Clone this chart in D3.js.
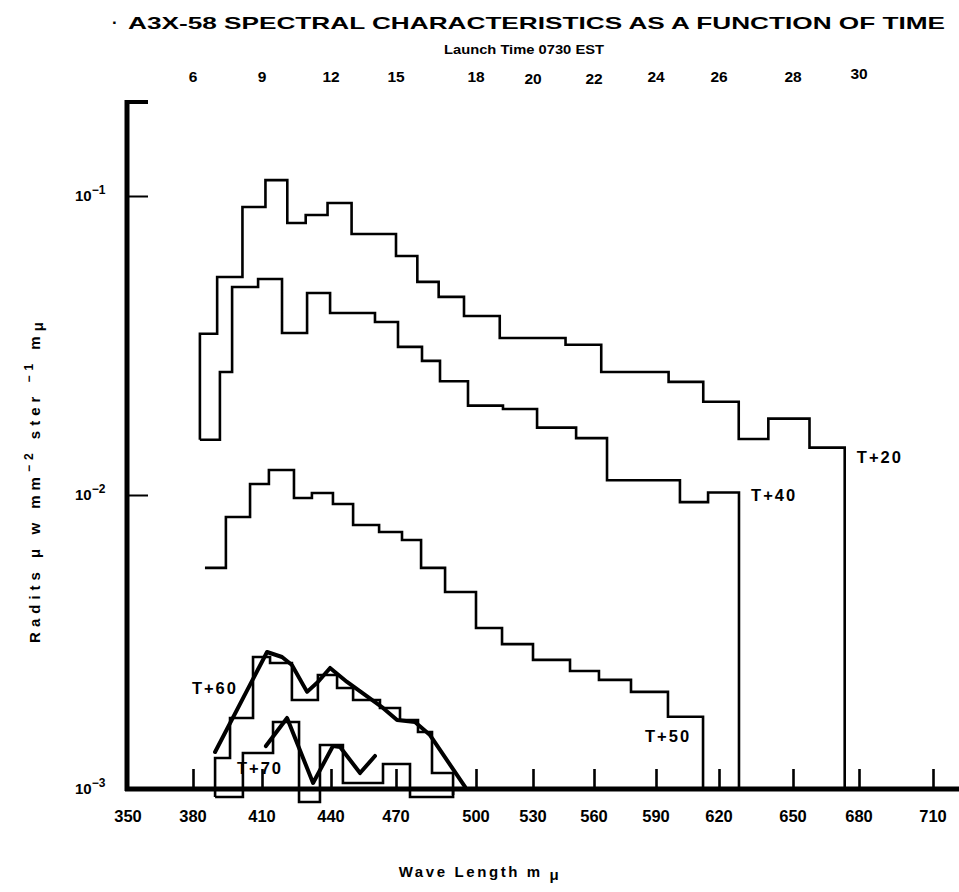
<!DOCTYPE html>
<html><head><meta charset="utf-8">
<script src="https://cdn.jsdelivr.net/npm/d3@7"></script>
<style>
html,body{margin:0;padding:0;background:#fff;}
svg{display:block;}
text{font-family:"Liberation Sans","DejaVu Sans",sans-serif;font-weight:bold;fill:#000;}
</style></head><body>
<svg id="chart" width="959" height="892"></svg>
<script>
// ---------------- data ----------------
const titleText = "A3X-58 SPECTRAL CHARACTERISTICS AS A FUNCTION OF TIME";
const subtitleText = "Launch Time 0730 EST";
const xTickValues = [350,380,410,440,470,500,530,560,590,620,650,680,710];
const topTickValues = [380,410,440,470,500,530,560,590,620,650,680];
const topTickLabels = ["6","9","12","15","18","20","22","24","26","28","30"];
const yTickValues = [1e-3,1e-2,1e-1];
const yTickExps = ["-3","-2","-1"];

// step spectra: bin edges (m\u03bc) and radiance per bin
const t20Edges = [383,390.5,401.5,411.5,421,429,438.5,449.5,470,478,486,495.5,512.5,546,563.5,596,612.5,628,640,657.5,673.5];
const t20Values = [0.0346,0.0536,0.0919,0.113,0.0812,0.0864,0.0947,0.0746,0.0630,0.0516,0.0460,0.0397,0.0335,0.0318,0.0258,0.0239,0.0205,0.0154,0.0180,0.0144];
const t20Start = 0.0153, t20End = 0.001;

const t40Edges = [383,391.7,397,408.3,418.7,429.6,439.6,460.3,470.75,479.75,486.5,497,514.2,532,551.2,566.3,601.4,614.8,628.1];
const t40Values = [0.0153,0.0258,0.0496,0.0528,0.0348,0.0474,0.0406,0.0379,0.0313,0.0281,0.0240,0.0199,0.0194,0.0168,0.0155,0.0112,0.00946,0.0102];
const t40Start = 0.0153, t40End = 0.001;

const t50Edges = [385.2,394.3,404.8,413,423.9,431.7,440.9,450.2,462.2,472.25,479.4,488.4,500,513.7,530,548.2,562.4,577.9,595.7,612.4];
const t50Values = [0.00565,0.00842,0.01088,0.01212,0.00977,0.01015,0.00932,0.00791,0.00748,0.00703,0.00565,0.00468,0.00353,0.00311,0.00275,0.00252,0.00235,0.00214,0.00176];
const t50Start = 0.00565, t50End = 0.001;

const t60Edges = [389.6,396.1,406.1,413.5,423,434.3,442.8,450.2,462.6,471.5,478.25,483.5,491.4];
const t60Values = [0.001275,0.001744,0.002812,0.002683,0.002008,0.002443,0.002205,0.002008,0.001886,0.001717,0.001563,0.001133];
const t60Start = 0.000939, t60End = 0.000954;

const t70Edges = [389.6,401.7,414.8,426.1,435.2,445.5,464,475.25,491.4];
const t70Values = [0.000939,0.001326,0.00169,0.000903,0.001412,0.001048,0.001216,0.000939];
const t70Start = 0.000939, t70End = 0.001;

// hand-faired curves through T+60 and T+70
const t60FitWave = [389.6,412.2,418.7,423,429.6,434.3,439.6,447.4,464,470.4,477.1,482.75,495.9];
const t60FitValue = [0.001336,0.002924,0.002812,0.002642,0.00214,0.002312,0.00258,0.002312,0.001886,0.001717,0.00169,0.001526,0.001016];
const t70FitWave = [411.7,420.9,432.2,440.9,444.2,453.4,460.3];
const t70FitValue = [0.0014,0.001744,0.001048,0.0014,0.00139,0.001133,0.001295];

const curveLabels = ["T+20","T+40","T+50","T+60","T+70"];
const curveLabelWave = [679,633,584.7,379.5,399.1];
const curveLabelValue = [0.0128,0.00954,0.001445,0.0021,0.001125];

// ---------------- layout ----------------
const svg = d3.select("#chart");
const xPx = [128,193,262,331,396,476,533,594,656,719,793,859,933];
const x = d3.scaleLinear().domain(xTickValues).range(xPx);
const y = d3.scaleLog().domain(yTickValues).range([789,495,196]);
const axisY = 789, axisX = 127;

// title
svg.append("text").attr("x",112).attr("y",28).attr("font-size",17).text("\u00b7");
svg.append("text").attr("x",128).attr("y",29).attr("font-size",17)
  .attr("textLength",817).attr("lengthAdjust","spacingAndGlyphs").text(titleText);
svg.append("text").attr("x",524).attr("y",54).attr("font-size",13.5).attr("text-anchor","middle")
  .attr("textLength",160).attr("lengthAdjust","spacingAndGlyphs").text(subtitleText);

// top scale labels
svg.append("g").selectAll("text").data(topTickValues).join("text")
  .attr("x",d=>x(d)).attr("y",(d,i)=> i>=5 && i<=6 ? 84 : (i===10?79:82))
  .attr("text-anchor","middle").attr("font-size",15.5).text((d,i)=>topTickLabels[i]);

// axes
const gx = svg.append("g").attr("transform",`translate(0,${axisY})`)
  .call(d3.axisBottom(x).tickValues(xTickValues.slice(1)).tickSize(-20).tickFormat(""));
gx.select(".domain").remove();
gx.selectAll(".tick line").attr("stroke","#000").attr("stroke-width",2.6);
svg.append("line").attr("x1",axisX-2).attr("x2",959).attr("y1",axisY).attr("y2",axisY)
  .attr("stroke","#000").attr("stroke-width",5);
svg.append("g").selectAll("text").data(xTickValues).join("text")
  .attr("x",d=>x(d)).attr("y",822).attr("text-anchor","middle").attr("font-size",16.5).text(d=>d);

const gy = svg.append("g").attr("transform",`translate(${axisX},0)`)
  .call(d3.axisLeft(y).tickValues(yTickValues.slice(1)).tickSize(-21).tickFormat(""));
gy.select(".domain").remove();
gy.selectAll(".tick line").attr("stroke","#000").attr("stroke-width",2);
svg.append("line").attr("x1",axisX).attr("x2",axisX).attr("y1",100).attr("y2",axisY+2)
  .attr("stroke","#000").attr("stroke-width",5);
svg.append("line").attr("x1",axisX).attr("x2",148).attr("y1",102).attr("y2",102)
  .attr("stroke","#000").attr("stroke-width",4);
const yl = svg.append("g").selectAll("text").data(yTickValues).join("text")
  .attr("x",75).attr("y",d=>y(d)+5).attr("font-size",15);
yl.append("tspan").text("10");
yl.append("tspan").attr("dy",-7).attr("font-size",12).text((d,i)=>"\u2212"+yTickExps[i].slice(1));

// axis titles
const xt = svg.append("text").attr("x",480).attr("y",877).attr("text-anchor","middle").attr("font-size",15)
  .attr("letter-spacing",2.6);
xt.append("tspan").text("Wave Length m ");
xt.append("tspan").attr("dy",3).text("\u03bc");

const yt = svg.append("text").attr("transform","translate(40,480) rotate(-90)").attr("text-anchor","middle")
  .attr("font-size",15).attr("letter-spacing",5);
yt.append("tspan").text("Radits \u03bc w mm");
yt.append("tspan").attr("dy",-7).attr("font-size",12).text("\u22122");
yt.append("tspan").attr("dy",7).text(" ster ");
yt.append("tspan").attr("dy",-7).attr("font-size",12).text("\u22121");
yt.append("tspan").attr("dy",7).text(" m");
yt.append("tspan").attr("dy",3).text("\u03bc");

// step curves
function stepPoints(edges, vals, start, end){
  const pts = [[edges[0], start]];
  vals.forEach((v,i)=>{ pts.push([edges[i],v]); pts.push([edges[i+1],v]); });
  pts.push([edges[edges.length-1], end]);
  return pts;
}
const line = d3.line().x(d=>x(d[0])).y(d=>y(d[1]));
const steps = [
  stepPoints(t20Edges,t20Values,t20Start,t20End),
  stepPoints(t40Edges,t40Values,t40Start,t40End),
  stepPoints(t50Edges,t50Values,t50Start,t50End),
  stepPoints(t60Edges,t60Values,t60Start,t60End),
  stepPoints(t70Edges,t70Values,t70Start,t70End)
];
svg.append("g").selectAll("path").data(steps).join("path")
  .attr("d",line).attr("fill","none").attr("stroke","#000").attr("stroke-width",2.6)
  .attr("stroke-linejoin","miter");

const fits = [
  t60FitWave.map((w,i)=>[w,t60FitValue[i]]),
  t70FitWave.map((w,i)=>[w,t70FitValue[i]])
];
svg.append("g").selectAll("path").data(fits).join("path")
  .attr("d",line).attr("fill","none").attr("stroke","#000").attr("stroke-width",4)
  .attr("stroke-linejoin","round").attr("stroke-linecap","round");

// curve labels
svg.append("g").selectAll("text").data(curveLabels).join("text")
  .attr("x",(d,i)=>x(curveLabelWave[i])).attr("y",(d,i)=>y(curveLabelValue[i]))
  .attr("font-size",16.5).attr("letter-spacing",2).text(d=>d);
</script>
</body></html>
